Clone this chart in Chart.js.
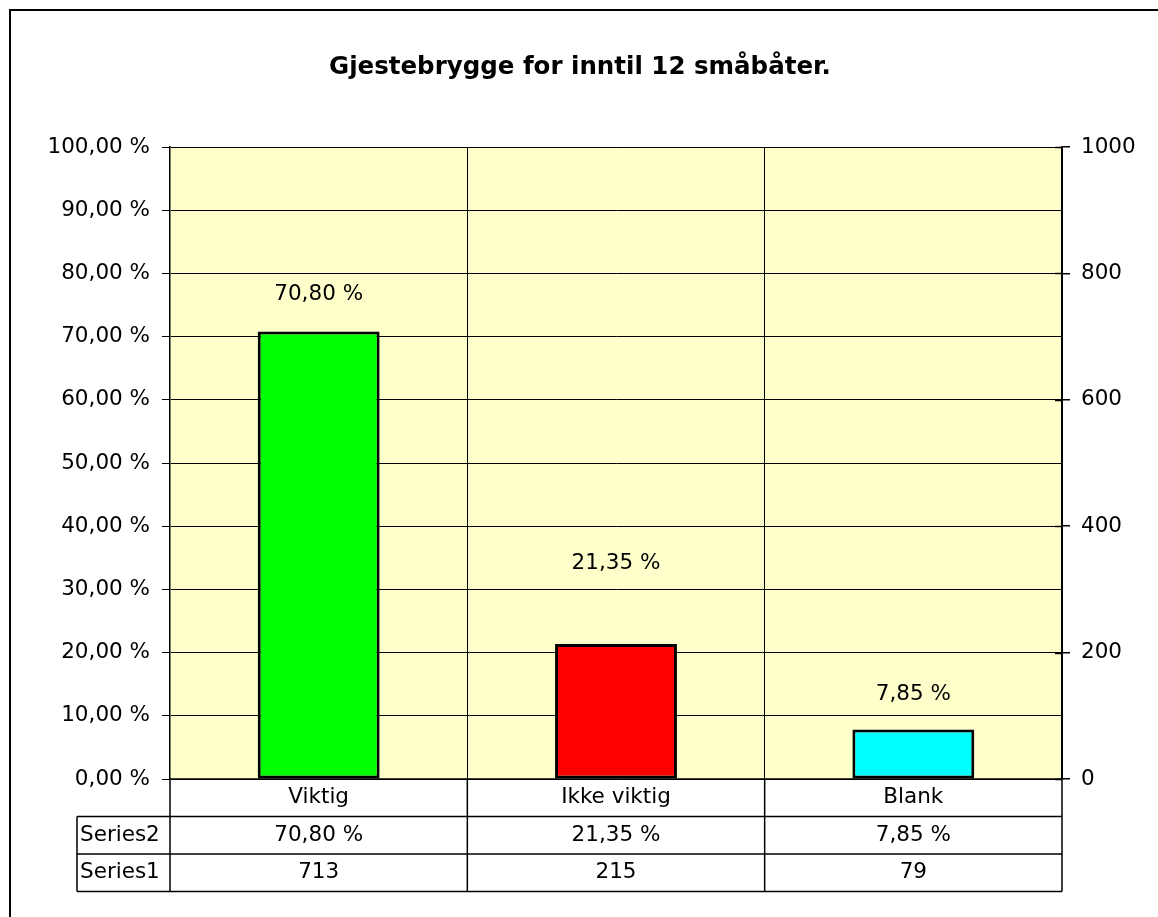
<!DOCTYPE html>
<html>
<head>
<meta charset="utf-8">
<script src="https://cdn.jsdelivr.net/npm/chart.js@4/dist/chart.umd.min.js"></script>
<style>
  body { margin: 0; background: #fff; }
  canvas { display: block; }
</style>
</head>
<body>
<canvas id="chart" width="1158" height="917"></canvas>
<script>
// Gjestebrygge chart

const titleText = 'Gjestebrygge for inntil 12 småbåter.';
const categories = ['Viktig', 'Ikke viktig', 'Blank'];
const series2 = [0.708, 0.2135, 0.0785];   // andel
const series1 = [713, 215, 79];            // antall
const barColors = ['#00ff00', '#ff0000', '#00ffff'];

function fmtPct(v) {
    return (v * 100).toFixed(2).replace('.', ',') + ' %';
}

const FONT = 'DejaVu Sans, Verdana, sans-serif';
const FSIZE = 21.5;

const excelLook = {
    id: 'excelLook',
    beforeDraw(chart) {
        const ctx = chart.ctx;
        const a = chart.chartArea;
        ctx.save();
        ctx.fillStyle = '#fff';
        ctx.fillRect(0, 0, chart.width, chart.height);
        ctx.fillStyle = '#ffffcc';
        ctx.fillRect(a.left, a.top, a.right - a.left, a.bottom - a.top);
        ctx.restore();
    },
    afterDraw(chart) {
        const ctx = chart.ctx;
        const a = chart.chartArea;
        const x = chart.scales.x;
        const y1 = chart.scales.y1;
        ctx.save();

        // outer frame
        ctx.strokeStyle = '#000';
        ctx.lineWidth = 2;
        ctx.strokeRect(10, 10, chart.width + 20, chart.height + 20);

        // title
        ctx.fillStyle = '#000';
        ctx.font = 'bold 24.5px ' + FONT;
        ctx.textAlign = 'center';
        ctx.textBaseline = 'middle';
        ctx.fillText(titleText, 580, 68);

        // right axis ticks cross the axis line
        ctx.lineWidth = 1.5;
        y1.ticks.forEach((t, i) => {
            const py = Math.round(y1.getPixelForTick(i)) + 0.5;
            ctx.beginPath();
            ctx.moveTo(a.right - 7, py);
            ctx.lineTo(a.right, py);
            ctx.stroke();
        });

        // data labels over the bars
        const offsets = [37, 81, 35];
        ctx.font = FSIZE + 'px ' + FONT;
        const meta = chart.getDatasetMeta(0);
        meta.data.forEach((bar, i) => {
            ctx.fillText(fmtPct(series2[i]), bar.x, bar.y - offsets[i]);
        });

        // data table
        const rowH = 37.5;
        const top = a.bottom;
        const headLeft = 77;
        const edges = [a.left];
        for (let i = 0; i < categories.length - 1; i++) {
            edges.push((x.getPixelForValue(i) + x.getPixelForValue(i + 1)) / 2);
        }
        edges.push(a.right);

        ctx.lineWidth = 1.5;
        ctx.beginPath();
        ctx.moveTo(a.left, top);
        ctx.lineTo(a.right, top);
        for (let r = 1; r <= 3; r++) {
            ctx.moveTo(headLeft, top + r * rowH);
            ctx.lineTo(a.right, top + r * rowH);
        }
        ctx.moveTo(headLeft, top + rowH);
        ctx.lineTo(headLeft, top + 3 * rowH);
        edges.forEach(ex => {
            ctx.moveTo(ex, top);
            ctx.lineTo(ex, top + 3 * rowH);
        });
        ctx.stroke();

        ctx.textAlign = 'center';
        categories.forEach((c, i) => {
            const cx = x.getPixelForValue(i);
            ctx.fillText(c, cx, top + rowH * 0.5);
            ctx.fillText(fmtPct(series2[i]), cx, top + rowH * 1.5);
            ctx.fillText(String(series1[i]), cx, top + rowH * 2.5);
        });
        ctx.textAlign = 'left';
        ctx.fillText('Series2', headLeft + 3, top + rowH * 1.5);
        ctx.fillText('Series1', headLeft + 3, top + rowH * 2.5);

        ctx.restore();
    }
};

Chart.defaults.font.family = FONT;
Chart.defaults.font.size = FSIZE;
Chart.defaults.color = '#000';

new Chart(document.getElementById('chart'), {
    type: 'bar',
    data: {
        labels: categories,
        datasets: [
            {
                label: 'Series2',
                data: series2,
                yAxisID: 'y',
                backgroundColor: barColors,
                borderColor: '#000',
                borderWidth: 3,
                borderSkipped: false,
                categoryPercentage: 1,
                barPercentage: 0.41
            },
            {
                label: 'Series1',
                data: series1,
                yAxisID: 'y1',
                hidden: true
            }
        ]
    },
    options: {
        responsive: false,
        animation: false,
        layout: { padding: { top: 147, bottom: 0, left: 0, right: 0 } },
        plugins: {
            legend: { display: false },
            tooltip: { enabled: false }
        },
        scales: {
            x: {
                grid: { offset: true, color: '#000', lineWidth: 1, drawTicks: false },
                border: { display: false },
                ticks: { display: false },
                afterFit: s => { s.height = 138; }
            },
            y: {
                position: 'left',
                min: 0,
                max: 1,
                ticks: { stepSize: 0.1, padding: 12, callback: v => fmtPct(v) },
                grid: { color: '#000', lineWidth: 1, tickLength: 8 },
                border: { display: true, color: '#000', width: 1.5 },
                afterFit: s => { s.width = 170; }
            },
            y1: {
                position: 'right',
                display: true,
                min: 0,
                max: 1000,
                ticks: { stepSize: 200, padding: 11, callback: v => String(v) },
                grid: { drawOnChartArea: false, color: '#000', lineWidth: 1.5, tickLength: 8 },
                border: { display: true, color: '#000', width: 1.5 },
                afterFit: s => { s.width = 96; }
            }
        }
    },
    plugins: [excelLook]
});
</script>
</body>
</html>
